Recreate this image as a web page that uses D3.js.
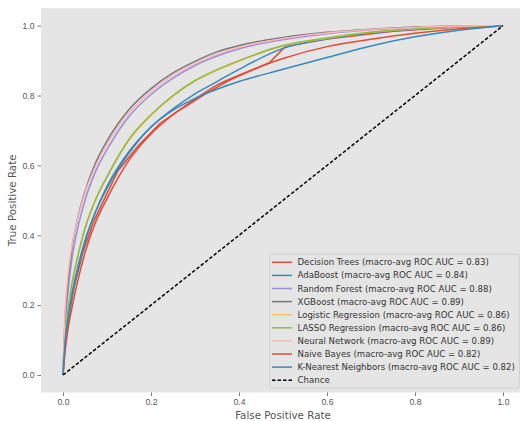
<!DOCTYPE html>
<html>
<head>
<meta charset="utf-8">
<script src="https://cdn.jsdelivr.net/npm/d3@7"></script>
<style>
  body { margin: 0; background: #fff; }
  svg { display: block; font-family: "DejaVu Sans", sans-serif; }
</style>
</head>
<body>
<div id="chart"></div>
<script>
// shared false positive rate grid
const fpr = [0, 0.005, 0.01, 0.02, 0.03, 0.05, 0.075, 0.1, 0.15, 0.2, 0.25, 0.3, 0.35, 0.4, 0.5, 0.6, 0.7, 0.8, 0.9, 1.0];

const tprAda   = [0, 0.09, 0.14, 0.22, 0.28, 0.38, 0.47, 0.54, 0.64, 0.71, 0.762, 0.805, 0.84, 0.875, 0.935, 0.962, 0.979, 0.99, 0.997, 1];
const tprRF    = [0, 0.14, 0.22, 0.33, 0.40, 0.50, 0.585, 0.645, 0.74, 0.803, 0.85, 0.886, 0.913, 0.934, 0.96, 0.977, 0.988, 0.995, 0.998, 1];
const tprXGB   = [0, 0.17, 0.25, 0.36, 0.43, 0.525, 0.61, 0.67, 0.76, 0.82, 0.865, 0.898, 0.925, 0.943, 0.966, 0.981, 0.99, 0.996, 0.999, 1];
const tprLR    = [0, 0.108, 0.168, 0.258, 0.318, 0.418, 0.503, 0.566, 0.672, 0.743, 0.798, 0.841, 0.872, 0.898, 0.942, 0.964, 0.981, 0.991, 0.997, 1];
const tprLASSO = [0, 0.11, 0.17, 0.26, 0.32, 0.42, 0.505, 0.568, 0.675, 0.745, 0.8, 0.843, 0.874, 0.9, 0.943, 0.965, 0.981, 0.991, 0.997, 1];
const tprNN    = [0, 0.19, 0.27, 0.37, 0.43, 0.52, 0.6, 0.66, 0.75, 0.812, 0.858, 0.892, 0.918, 0.938, 0.963, 0.979, 0.989, 0.995, 0.999, 1];
const tprNB    = [0, 0.07, 0.12, 0.19, 0.25, 0.35, 0.44, 0.505, 0.615, 0.69, 0.745, 0.79, 0.83, 0.858, 0.906, 0.94, 0.961, 0.978, 0.991, 1];
const tprKNN   = [0, 0.10, 0.15, 0.23, 0.29, 0.385, 0.47, 0.535, 0.635, 0.71, 0.758, 0.792, 0.818, 0.84, 0.875, 0.909, 0.942, 0.968, 0.987, 1];

// decision tree has its own (few) thresholds
const fprDT = [0, 0.004, 0.012, 0.025, 0.045, 0.07, 0.1, 0.125, 0.17, 0.22, 0.26, 0.28, 0.33, 0.38, 0.47, 0.505, 0.6, 0.75, 0.9, 1];
const tprDT = [0, 0.07, 0.16, 0.25, 0.35, 0.44, 0.52, 0.585, 0.655, 0.72, 0.755, 0.77, 0.81, 0.845, 0.895, 0.94, 0.962, 0.984, 0.996, 1];

const modelNames = ['Decision Trees', 'AdaBoost', 'Random Forest', 'XGBoost', 'Logistic Regression',
  'LASSO Regression', 'Neural Network', 'Naive Bayes', 'K-Nearest Neighbors'];
const aucValues = ['0.83', '0.84', '0.88', '0.89', '0.86', '0.86', '0.89', '0.82', '0.82'];
const colors = ['#E24A33', '#348ABD', '#988ED5', '#777777', '#FBC15E', '#8EBA42', '#FFB5B8', '#E24A33', '#348ABD'];

const xTicks = [0, 0.2, 0.4, 0.6, 0.8, 1.0];
const yTicks = [0, 0.2, 0.4, 0.6, 0.8, 1.0];

const curves = [
  { x: fprDT, y: tprDT, smooth: false },
  { x: fpr, y: tprAda, smooth: true },
  { x: fpr, y: tprRF, smooth: true },
  { x: fpr, y: tprXGB, smooth: true },
  { x: fpr, y: tprLR, smooth: true },
  { x: fpr, y: tprLASSO, smooth: true },
  { x: fpr, y: tprNN, smooth: true },
  { x: fpr, y: tprNB, smooth: true },
  { x: fpr, y: tprKNN, smooth: true }
].map((c, i) => ({
  label: `${modelNames[i]} (macro-avg ROC AUC = ${aucValues[i]})`,
  color: colors[i],
  smooth: c.smooth,
  points: c.x.map((v, j) => [v, c.y[j]])
}));

const width = 520, height = 421;
const plot = { left: 41, right: 525, top: 8.2, bottom: 392.5 };

const svg = d3.select('#chart')
  .append('svg')
  .attr('width', width)
  .attr('height', height);

const x = d3.scaleLinear().domain([-0.05, 1.05]).range([plot.left, plot.right]);
const y = d3.scaleLinear().domain([-0.05, 1.05]).range([plot.bottom, plot.top]);

svg.append('rect')
  .attr('x', plot.left)
  .attr('y', plot.top)
  .attr('width', plot.right - plot.left)
  .attr('height', plot.bottom - plot.top)
  .attr('fill', '#E5E5E5');

// axes
const xAxis = svg.append('g')
  .attr('transform', `translate(0, ${plot.bottom})`)
  .call(d3.axisBottom(x).tickValues(xTicks).tickFormat(d3.format('.1f')).tickSize(3.5).tickPadding(3));

const yAxis = svg.append('g')
  .attr('transform', `translate(${plot.left}, 0)`)
  .call(d3.axisLeft(y).tickValues(yTicks).tickFormat(d3.format('.1f')).tickSize(3.5).tickPadding(3));

[xAxis, yAxis].forEach(a => {
  a.select('.domain').remove();
  a.selectAll('line').attr('stroke', '#555555').attr('stroke-width', 0.8);
  a.selectAll('text').attr('fill', '#555555').style('font-size', '8.6px');
});

svg.append('text')
  .attr('x', (plot.left + plot.right) / 2)
  .attr('y', 418.5)
  .attr('text-anchor', 'middle')
  .attr('fill', '#555555')
  .style('font-size', '10.3px')
  .text('False Positive Rate');

svg.append('text')
  .attr('transform', `translate(15.5, ${(plot.top + plot.bottom) / 2}) rotate(-90)`)
  .attr('text-anchor', 'middle')
  .attr('fill', '#555555')
  .style('font-size', '10.3px')
  .text('True Positive Rate');

const smoothLine = d3.line()
  .x(d => x(d[0]))
  .y(d => y(d[1]))
  .curve(d3.curveMonotoneX);

const stepLine = d3.line()
  .x(d => x(d[0]))
  .y(d => y(d[1]));

svg.append('g')
  .selectAll('path')
  .data(curves)
  .enter().append('path')
  .attr('d', d => (d.smooth ? smoothLine : stepLine)(d.points))
  .attr('fill', 'none')
  .attr('stroke', d => d.color)
  .attr('stroke-width', 1.5);

svg.append('path')
  .attr('d', stepLine([[0, 0], [1, 1]]))
  .attr('fill', 'none')
  .attr('stroke', '#000')
  .attr('stroke-width', 1.5)
  .attr('stroke-dasharray', '3.5,2');

// legend
const legendItems = curves.map(c => ({ label: c.label, color: c.color, dash: null }))
  .concat([{ label: 'Chance', color: '#000', dash: '3.5,2' }]);

const legend = svg.append('g');
const box = legend.append('rect')
  .attr('rx', 2)
  .attr('fill', '#E5E5E5')
  .attr('fill-opacity', 0.8)
  .attr('stroke', '#CCCCCC')
  .attr('stroke-width', 0.8);

const firstY = 262.3, rowStep = 13.1, handleX = 272, textX = 297.5;

const rows = legend.selectAll('.row')
  .data(legendItems)
  .enter().append('g')
  .attr('class', 'row')
  .attr('transform', (d, i) => `translate(0, ${firstY + i * rowStep})`);

rows.append('line')
  .attr('x1', handleX)
  .attr('x2', handleX + 20)
  .attr('stroke', d => d.color)
  .attr('stroke-width', 1.5)
  .attr('stroke-dasharray', d => d.dash);

rows.append('text')
  .attr('x', textX)
  .attr('dy', '0.35em')
  .attr('fill', '#333333')
  .style('font-size', '8.6px')
  .text(d => d.label);

let maxW = 0;
rows.selectAll('text').each(function() {
  maxW = Math.max(maxW, this.getComputedTextLength());
});

box.attr('x', 269.5)
  .attr('y', 254)
  .attr('width', textX + maxW + 4.5 - 269.5)
  .attr('height', 134);
</script>
</body>
</html>
